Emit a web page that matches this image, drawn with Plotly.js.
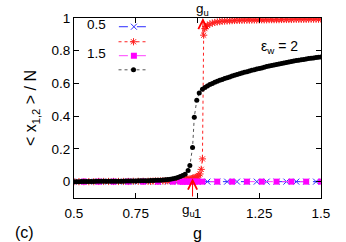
<!DOCTYPE html>
<html>
<head>
<meta charset="utf-8">
<script src="https://cdn.plot.ly/plotly-3.0.1.min.js"></script>
<style>html,body{margin:0;padding:0;background:#fff;}#chart{width:346px;height:242px;}</style>
</head>
<body>
<div id="chart"></div>
<script>
// Series 0.5 (blue, x markers) — zero everywhere
const blueG = [0.52,0.56,0.60,0.64,0.68,0.72,0.76,0.80,0.84,0.88,0.92,0.96,1.00,1.04,1.08,1.12,1.16,1.20,1.24,1.28,1.32,1.36,1.40,1.44,1.48];
const blueY = [0,0,0,0,0,0,0,0,0,0,0,0,0,0,0,0,0,0,0,0,0,0,0,0,0];

// Series 1.0 (red, asterisks)
const redG = [0.50,0.52,0.54,0.56,0.58,0.60,0.62,0.64,0.66,0.68,0.70,0.72,0.74,0.76,0.78,0.80,0.81,0.82,0.83,0.84,0.85,0.86,0.87,0.88,0.89,0.90,0.91,0.92,0.93,0.94,0.95,0.955,0.96,0.965,0.97,0.975,0.98,0.985,0.99,0.995,1.00,1.005,1.01,1.015,1.02,1.025,1.03,1.035,1.04,1.05,1.06,1.07,1.08,1.09,1.10,1.11,1.12,1.13,1.14,1.15,1.16,1.17,1.18,1.19,1.20,1.21,1.22,1.23,1.24,1.25,1.26,1.27,1.28,1.29,1.30,1.31,1.32,1.33,1.34,1.35,1.36,1.37,1.38,1.39,1.40,1.41,1.42,1.43,1.44,1.45,1.46,1.47,1.48,1.49,1.50];
const redY = [0.000,0.000,0.000,0.000,0.000,0.001,0.001,0.001,0.001,0.001,0.001,0.001,0.002,0.002,0.002,0.002,0.002,0.003,0.003,0.003,0.004,0.004,0.005,0.005,0.006,0.006,0.007,0.008,0.009,0.010,0.012,0.013,0.014,0.015,0.016,0.018,0.020,0.022,0.025,0.028,0.032,0.038,0.047,0.075,0.139,0.895,0.935,0.948,0.955,0.963,0.969,0.973,0.976,0.978,0.980,0.981,0.982,0.983,0.984,0.985,0.985,0.986,0.986,0.987,0.987,0.987,0.988,0.988,0.988,0.989,0.989,0.989,0.989,0.990,0.990,0.990,0.990,0.990,0.991,0.991,0.991,0.991,0.991,0.992,0.992,0.992,0.992,0.992,0.992,0.993,0.993,0.993,0.993,0.993,0.993];

// Series 1.5 (magenta, squares) — zero everywhere
const magG = [0.54,0.60,0.66,0.72,0.78,0.84,0.90,0.93,0.94,0.95,0.96,0.97,0.98,0.99,1.00,1.02,1.08,1.14,1.20,1.26,1.32,1.38,1.44,1.50];
const magY = [0,0,0,0,0,0,0,0,0,0,0,0,0,0,0,0,0,0,0,0,0,0,0,0];

// Series 2.0 (black, circles)
const blackG = [0.50,0.51,0.52,0.53,0.54,0.55,0.56,0.57,0.58,0.59,0.60,0.61,0.62,0.63,0.64,0.65,0.66,0.67,0.68,0.69,0.70,0.71,0.72,0.73,0.74,0.75,0.76,0.77,0.78,0.79,0.80,0.81,0.82,0.83,0.84,0.85,0.86,0.87,0.88,0.89,0.90,0.91,0.92,0.93,0.94,0.95,0.962,0.969,0.980,0.987,0.997,1.007,1.02,1.03,1.04,1.05,1.06,1.07,1.08,1.09,1.10,1.11,1.12,1.13,1.14,1.15,1.16,1.17,1.18,1.19,1.20,1.21,1.22,1.23,1.24,1.25,1.26,1.27,1.28,1.29,1.30,1.31,1.32,1.33,1.34,1.35,1.36,1.37,1.38,1.39,1.40,1.41,1.42,1.43,1.44,1.45,1.46,1.47,1.48,1.49,1.50];
const blackY = [0.000,0.000,0.000,0.001,0.001,0.001,0.001,0.001,0.001,0.002,0.002,0.002,0.002,0.002,0.002,0.003,0.003,0.003,0.003,0.003,0.003,0.004,0.004,0.004,0.004,0.004,0.005,0.005,0.005,0.006,0.006,0.007,0.007,0.008,0.008,0.009,0.010,0.011,0.013,0.015,0.018,0.021,0.026,0.031,0.038,0.045,0.068,0.099,0.208,0.394,0.497,0.541,0.565,0.576,0.585,0.593,0.600,0.607,0.613,0.619,0.624,0.630,0.635,0.640,0.645,0.650,0.655,0.659,0.664,0.668,0.672,0.676,0.680,0.684,0.688,0.692,0.695,0.699,0.703,0.706,0.710,0.713,0.716,0.719,0.722,0.725,0.728,0.731,0.734,0.737,0.740,0.742,0.745,0.747,0.750,0.752,0.754,0.756,0.758,0.760,0.762];

const xTickVals = [0.5, 0.75, 1, 1.25, 1.5];
const xTickText = ['0.5', '0.75', '1', '1.25', '1.5'];
const yTickVals = [0, 0.2, 0.4, 0.6, 0.8, 1];
const yTickText = ['0', '0.2', '0.4', '0.6', '0.8', '1'];
const legendLabels = ['0.5', '', '1.5', ''];

// arrow positions (g_u markers)
const guTop = {g: 1.022, from: 0.89, to: 1.0};
const guBottom = {g: 0.98, from: -0.1, to: 0.02};

const FONT = 'Liberation Sans, Arial, sans-serif';

const traces = [
  {x: blueG, y: blueY, type: 'scatter', mode: 'lines+markers', name: '', legend: 'legend',
   line: {color: '#2b2bff', width: 1, dash: 'dash'},
   marker: {symbol: 'x-thin-open', size: 6, color: '#2b2bff', line: {width: 1, color: '#2b2bff'}}},
  {x: redG, y: redY, type: 'scatter', mode: 'lines+markers', name: '', legend: 'legend2',
   line: {color: '#ff2020', width: 1, dash: 'dot'},
   marker: {symbol: 'asterisk-open', size: 6, color: '#ff2020', line: {width: 1, color: '#ff2020'}}},
  {x: magG, y: magY, type: 'scatter', mode: 'lines+markers', name: '', legend: 'legend3',
   line: {color: '#ff40ff', width: 1, dash: 'dash'},
   marker: {symbol: 'square', size: 6, color: '#ff00ff'}},
  {x: blackG, y: blackY, type: 'scatter', mode: 'lines+markers', name: '', legend: 'legend4',
   line: {color: '#555', width: 1, dash: 'dot'},
   marker: {symbol: 'circle', size: 5, color: '#000'}}
];

function mkLegend(yPaper, title, xPaper) {
  const l = {x: xPaper, y: yPaper, xanchor: 'left', yanchor: 'middle', bgcolor: 'rgba(0,0,0,0)',
    font: {family: FONT, size: 13.5, color: '#000'}, itemclick: false};
  if (title) l.title = {text: title, side: 'left', font: {family: FONT, size: 13.5, color: '#000'}};
  return l;
}

const layout = {
  width: 346, height: 242,
  margin: {l: 74, r: 25, t: 17, b: 44},
  paper_bgcolor: '#fff', plot_bgcolor: '#fff',
  font: {family: FONT, size: 13.5, color: '#000'},
  showlegend: true,
  legend: mkLegend(0.945, legendLabels[0], 0.045),
  legend2: mkLegend(0.862, legendLabels[1], 0.16),
  legend3: mkLegend(0.785, legendLabels[2], 0.045),
  legend4: mkLegend(0.707, legendLabels[3], 0.16),
  xaxis: {range: [0.5, 1.5], tickvals: xTickVals, ticktext: xTickText,
    ticks: 'inside', ticklen: 5, tickcolor: '#000', showline: true, linecolor: '#000', linewidth: 1,
    mirror: 'ticks', showgrid: false, zeroline: false, ticklabelstandoff: 3,
    tickfont: {family: FONT, size: 13.5},
    title: {text: 'g', font: {family: FONT, size: 16}, standoff: 8}},
  yaxis: {range: [-0.1, 1.0], tickvals: yTickVals, ticktext: yTickText,
    ticks: 'inside', ticklen: 5, tickcolor: '#000', showline: true, linecolor: '#000', linewidth: 1,
    mirror: 'ticks', showgrid: false, zeroline: false,
    tickfont: {family: FONT, size: 13.5},
    title: {text: '< x<sub>1,2</sub> > / N', font: {family: FONT, size: 16}, standoff: 10}},
  annotations: [
    {x: guTop.g, y: guTop.to, ax: guTop.g, ay: guTop.from, axref: 'x', ayref: 'y', xref: 'x', yref: 'y',
     text: '', showarrow: true, arrowhead: 5, arrowsize: 1.8, arrowwidth: 1, arrowcolor: '#ff0000'},
    {x: guBottom.g, y: guBottom.to, ax: guBottom.g, ay: guBottom.from, axref: 'x', ayref: 'y', xref: 'x', yref: 'y',
     text: '', showarrow: true, arrowhead: 5, arrowsize: 1.8, arrowwidth: 1, arrowcolor: '#ff0000'},
    {x: guTop.g, y: 1.0, xref: 'x', yref: 'y', yanchor: 'bottom', xanchor: 'center', showarrow: false,
     text: 'g<sub>u</sub>', font: {family: FONT, size: 13.5, color: '#000'}, yshift: -2},
    {x: 0.965, y: -0.01, xref: 'x', yref: 'paper', yanchor: 'top', xanchor: 'center', showarrow: false,
     text: 'g<sub>u</sub>', font: {family: FONT, size: 13.5, color: '#000'}},
    {x: 1.33, y: 0.82, xref: 'x', yref: 'y', xanchor: 'center', yanchor: 'middle', showarrow: false,
     text: 'ε<sub>w</sub> = 2', font: {family: FONT, size: 14, color: '#000'}},
    {x: -0.2, y: -0.19, xref: 'paper', yref: 'paper', xanchor: 'center', yanchor: 'middle', showarrow: false,
     text: '(c)', font: {family: FONT, size: 16, color: '#000'}}
  ]
};

Plotly.newPlot('chart', traces, layout, {staticPlot: true, displayModeBar: false});
</script>
</body>
</html>
